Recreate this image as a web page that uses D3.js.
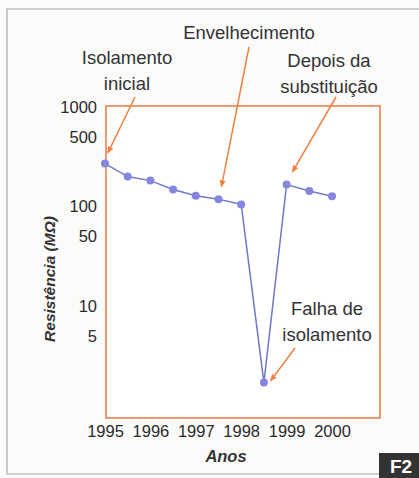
<!DOCTYPE html>
<html>
<head>
<meta charset="utf-8">
<script src="https://cdn.jsdelivr.net/npm/d3@7.9.0/dist/d3.min.js"></script>
<style>
  body { margin: 0; background: #fbfbfa; }
  svg { display: block; font-family: "Liberation Sans", Arial, sans-serif; }
</style>
</head>
<body>
<svg id="chart" width="419" height="478"></svg>
<script>
// data (half-year readings, resistance in MΩ)
const years = [1995, 1995.5, 1996, 1996.5, 1997, 1997.5, 1998, 1998.5, 1999, 1999.5, 2000];
const resistance = [270, 200, 182, 148, 128, 118, 105, 1.7, 166, 143, 127];
const yearTicks = [1995, 1996, 1997, 1998, 1999, 2000];
const valueTicks = [1000, 500, 100, 50, 10, 5];

// annotations: text lines, label centre, which point the arrow aims at
const notes = [
  { lines: ['Isolamento', 'inicial'], x: 127, y: 64, from: [135, 97], point: 0, off: [3, -11] },
  { lines: ['Envelhecimento'], x: 249, y: 39, from: [249, 47], point: 5, off: [3, -13] },
  { lines: ['Depois da', 'substituição'], x: 329, y: 67, from: [336, 97], point: 8, off: [6, -13] },
  { lines: ['Falha de', 'isolamento'], x: 327, y: 315, from: [295, 348], point: 7, off: [7, -2] }
];

const svg = d3.select('#chart');
const orange = '#ee8142';
const frame = { left: 106, right: 380, top: 106, bottom: 418 };

let x = d3.scaleLinear().domain([1995, 2000]).range([105, 332]);
let y = d3.scaleLog().domain([10, 1000]).range([306, 107]);

// outer page frame
svg.append('path')
  .attr('d', 'M419,9 H7 V474 H380')
  .attr('fill', 'none')
  .attr('stroke', '#a8a8a8')
  .attr('stroke-width', 1.2);

// plot frame
svg.append('rect')
  .attr('x', frame.left)
  .attr('y', frame.top)
  .attr('width', frame.right - frame.left)
  .attr('height', frame.bottom - frame.top)
  .attr('fill', '#ffffff')
  .attr('stroke', '#ea8250')
  .attr('stroke-width', 1.6);

// axes, labels only
let yAxis = d3.axisLeft(y).tickValues(valueTicks).tickFormat(d3.format('d')).tickSize(0).tickPadding(0);
svg.append('g')
  .attr('transform', 'translate(97,0)')
  .call(yAxis)
  .call(g => g.select('.domain').remove())
  .selectAll('text')
  .attr('font-size', 16.5)
  .attr('font-family', '"Liberation Sans", Arial, sans-serif')
  .attr('fill', '#2a2a2a');

let xAxis = d3.axisBottom(x).tickValues(yearTicks).tickFormat(d3.format('d')).tickSize(0).tickPadding(0);
svg.append('g')
  .attr('transform', 'translate(0,425)')
  .call(xAxis)
  .call(g => g.select('.domain').remove())
  .selectAll('text')
  .attr('font-size', 16.5)
  .attr('font-family', '"Liberation Sans", Arial, sans-serif')
  .attr('fill', '#2a2a2a');

// axis titles
svg.append('text')
  .attr('x', 226).attr('y', 462)
  .attr('text-anchor', 'middle')
  .attr('font-size', 16.5)
  .attr('font-style', 'italic')
  .attr('font-weight', 'bold')
  .attr('fill', '#333')
  .text('Anos');

svg.append('text')
  .attr('transform', 'translate(55,279) rotate(-90)')
  .attr('text-anchor', 'middle')
  .attr('font-size', 15.5)
  .attr('font-style', 'italic')
  .attr('font-weight', 'bold')
  .attr('fill', '#333')
  .text('Resistência (MΩ)');

// series
let data = years.map((yr, i) => ({ year: yr, value: resistance[i] }));
let line = d3.line().x(d => x(d.year)).y(d => y(d.value));

svg.append('path')
  .datum(data)
  .attr('d', line)
  .attr('fill', 'none')
  .attr('stroke', '#7477c6')
  .attr('stroke-width', 1.5);

svg.selectAll('circle.pt')
  .data(data)
  .join('circle')
  .attr('class', 'pt')
  .attr('cx', d => x(d.year))
  .attr('cy', d => y(d.value))
  .attr('r', 4)
  .attr('fill', '#8587de');

// arrows + notes
svg.append('defs').append('marker')
  .attr('id', 'head')
  .attr('viewBox', '0 0 10 10')
  .attr('refX', 8).attr('refY', 5)
  .attr('markerWidth', 5).attr('markerHeight', 5)
  .attr('orient', 'auto')
  .append('path')
  .attr('d', 'M0,1 L10,5 L0,9 Z')
  .attr('fill', orange);

notes.forEach(n => {
  let p = data[n.point];
  let tx = x(p.year) + n.off[0];
  let ty = y(p.value) + n.off[1];
  svg.append('line')
    .attr('x1', n.from[0]).attr('y1', n.from[1])
    .attr('x2', tx).attr('y2', ty)
    .attr('stroke', orange)
    .attr('stroke-width', 1.5)
    .attr('marker-end', 'url(#head)');

  let t = svg.append('text')
    .attr('text-anchor', 'middle')
    .attr('font-size', 18.5)
    .attr('fill', '#333');
  n.lines.forEach((l, i) => {
    t.append('tspan').attr('x', n.x).attr('y', n.y + i * 26).text(l);
  });
});

// F2 badge
svg.append('rect')
  .attr('x', 379).attr('y', 453)
  .attr('width', 40).attr('height', 25)
  .attr('fill', '#333');
svg.append('text')
  .attr('x', 401).attr('y', 473)
  .attr('text-anchor', 'middle')
  .attr('font-size', 19)
  .attr('font-weight', 'bold')
  .attr('fill', '#fff')
  .text('F2');
</script>
</body>
</html>
